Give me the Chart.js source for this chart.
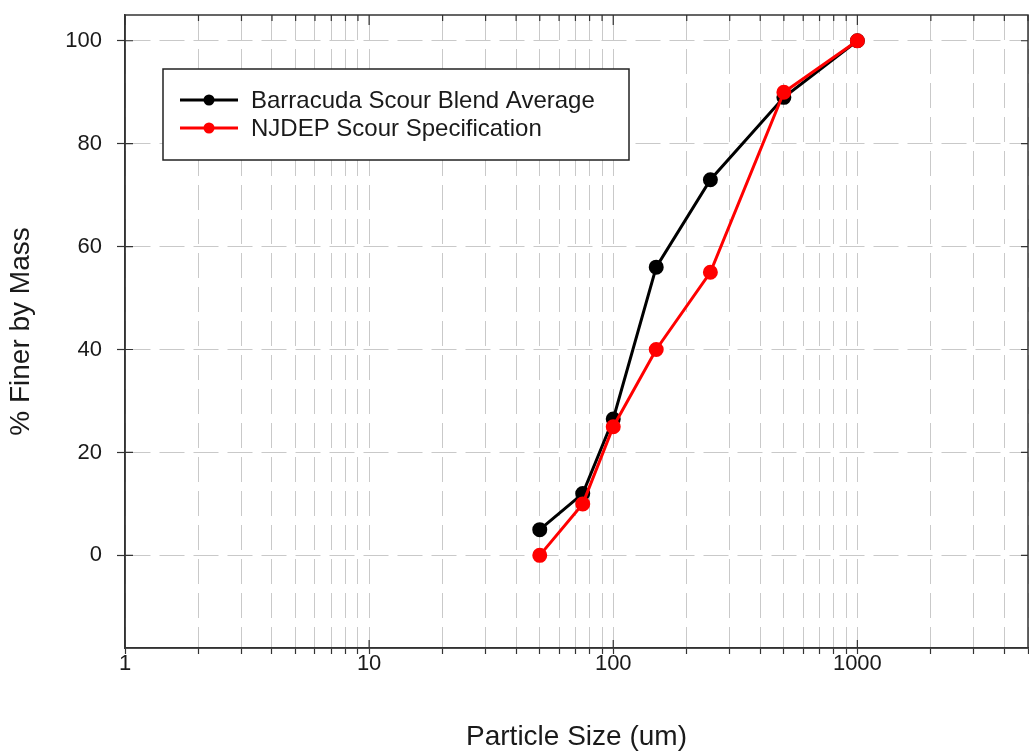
<!DOCTYPE html>
<html>
<head>
<meta charset="utf-8">
<script src="https://cdn.jsdelivr.net/npm/chart.js@4.4.1/dist/chart.umd.min.js"></script>
<style>
  html, body { margin: 0; padding: 0; background: #fff; }
  #wrap { width: 1029px; height: 753px; }
</style>
</head>
<body>
<div id="wrap"><canvas id="sizeChart"></canvas></div>
<script>
// sieve sizes (um) and % finer
const sizes = [50, 75, 100, 150, 250, 500, 1000];
const barracuda = [5, 12, 26.5, 56, 73, 89, 100];
const njdep = [0, 10, 25, 40, 55, 90, 100];

const seriesNames = ["Barracuda Scour Blend Average", "NJDEP Scour Specification"];
const seriesColors = ["#000000", "#ff0000"];

// log grid positions and labels
const xGridValues = [1, 2, 3, 4, 5, 6, 7, 8, 9,
	10, 20, 30, 40, 50, 60, 70, 80, 90,
	100, 200, 300, 400, 500, 600, 700, 800, 900,
	1000, 2000, 3000, 4000, 5000];
const xTickLabels = [1, 10, 100, 1000];
const yTickValues = [0, 20, 40, 60, 80, 100];

const FONT = "'Liberation Sans', Arial, sans-serif";
const TXT = "#1a1a1a";

function toPoints(xs, ys) {
	return xs.map((x, i) => ({ x: x, y: ys[i] }));
}

// frame + inner ticks
const framePlugin = {
	id: "frame",
	afterDraw(chart) {
		const ctx = chart.ctx;
		const a = chart.chartArea;
		const xs = chart.scales.x;
		const ys = chart.scales.y;
		ctx.save();
		ctx.strokeStyle = "#333";
		ctx.lineWidth = 1.5;
		ctx.strokeRect(a.left, a.top, a.right - a.left, a.bottom - a.top);
		ctx.lineWidth = 1.2;
		ctx.beginPath();
		xGridValues.forEach(v => {
			const px = xs.getPixelForValue(v);
			const major = xTickLabels.includes(v);
			ctx.moveTo(px, a.top);
			ctx.lineTo(px, a.top + (major ? 10 : 6));
			if (major) {
				ctx.moveTo(px, a.bottom);
				ctx.lineTo(px, a.bottom - 8);
			}
		});
		yTickValues.forEach(v => {
			const py = ys.getPixelForValue(v);
			ctx.moveTo(a.left, py);
			ctx.lineTo(a.left + 8, py);
			ctx.moveTo(a.right, py);
			ctx.lineTo(a.right - 7, py);
		});
		ctx.stroke();
		ctx.restore();
	}
};

// boxed legend inside the plot
const legendPlugin = {
	id: "boxLegend",
	afterDraw(chart) {
		const ctx = chart.ctx;
		const a = chart.chartArea;
		const bx = a.left + 38, by = a.top + 54, bw = 466, bh = 91;
		ctx.save();
		ctx.fillStyle = "#fff";
		ctx.fillRect(bx, by, bw, bh);
		ctx.strokeStyle = "#222";
		ctx.lineWidth = 1.5;
		ctx.strokeRect(bx, by, bw, bh);
		chart.data.datasets.forEach((ds, i) => {
			const rowY = by + 31 + i * 28;
			ctx.strokeStyle = ds.borderColor;
			ctx.lineWidth = 3;
			ctx.beginPath();
			ctx.moveTo(bx + 17, rowY);
			ctx.lineTo(bx + 75, rowY);
			ctx.stroke();
			ctx.fillStyle = ds.borderColor;
			ctx.beginPath();
			ctx.arc(bx + 46, rowY, 5.5, 0, Math.PI * 2);
			ctx.fill();
			ctx.fillStyle = TXT;
			ctx.font = "24px " + FONT;
			ctx.textBaseline = "middle";
			ctx.fillText(ds.label, bx + 88, rowY + 1);
		});
		ctx.restore();
	}
};

const gridStyle = {
	color: "#c9c9c9",
	lineWidth: 1,
	tickColor: "#333",
	tickWidth: 1.2
};

new Chart(document.getElementById("sizeChart").getContext("2d"), {
	type: "line",
	data: {
		datasets: [
			{
				label: seriesNames[0],
				data: toPoints(sizes, barracuda),
				borderColor: seriesColors[0],
				backgroundColor: seriesColors[0],
				borderWidth: 3,
				pointRadius: 6,
				pointHoverRadius: 6,
				order: 1
			},
			{
				label: seriesNames[1],
				data: toPoints(sizes, njdep),
				borderColor: seriesColors[1],
				backgroundColor: seriesColors[1],
				borderWidth: 3,
				pointRadius: 6,
				pointHoverRadius: 6,
				order: 0
			}
		]
	},
	options: {
		responsive: true,
		maintainAspectRatio: false,
		animation: false,
		layout: { autoPadding: false, padding: { top: 15, right: 1, left: 0, bottom: 0 } },
		plugins: {
			legend: { display: false },
			tooltip: { enabled: false }
		},
		scales: {
			x: {
				type: "logarithmic",
				min: 1,
				max: 5000,
				afterBuildTicks(scale) {
					scale.ticks = xGridValues.map(v => ({ value: v }));
				},
				afterFit(scale) {
					scale.height = 105;
					scale.paddingLeft = 0;
					scale.paddingRight = 0;
				},
				ticks: {
					autoSkip: false,
					maxRotation: 0,
					padding: -3,
					color: TXT,
					font: { family: FONT, size: 22 },
					callback: v => xTickLabels.includes(v) ? String(v) : ""
				},
				grid: Object.assign({}, gridStyle, { tickLength: 6 }),
				border: { display: true, color: "#333", width: 1.5, dash: [25, 9] },
				title: {
					display: true,
					text: "Particle Size (um)",
					color: TXT,
					font: { family: FONT, size: 28, lineHeight: 1.1 },
					padding: { top: 0, bottom: 0 }
				}
			},
			y: {
				type: "linear",
				min: -18,
				max: 105,
				afterBuildTicks(scale) {
					scale.ticks = yTickValues.map(v => ({ value: v }));
				},
				afterFit(scale) {
					scale.width = 125;
					scale.paddingTop = 0;
					scale.paddingBottom = 0;
				},
				ticks: {
					padding: 15,
					color: TXT,
					font: { family: FONT, size: 22 }
				},
				grid: Object.assign({}, gridStyle, { tickLength: 8 }),
				border: { display: true, color: "#333", width: 1.5, dash: [25, 9] },
				title: {
					display: true,
					text: "% Finer by Mass",
					color: TXT,
					font: { family: FONT, size: 28, lineHeight: 1.1 },
					padding: { top: 6, bottom: 0 }
				}
			}
		}
	},
	plugins: [framePlugin, legendPlugin]
});
</script>
</body>
</html>
